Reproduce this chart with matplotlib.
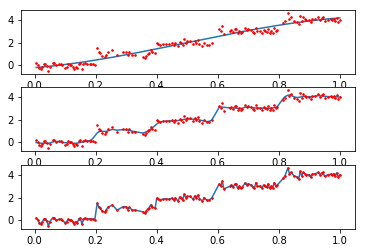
import numpy as np
import matplotlib
matplotlib.use("Agg")
import matplotlib.pyplot as plt

x_a = [0.005,0.01,0.015,0.02,0.025,0.03,0.035,0.04,0.045,0.05,0.06,0.065,0.07,0.08,0.085,0.09,0.1,0.105,0.11,0.115,0.12,0.125,0.13,0.135,0.14,0.145,0.15,0.155,0.16,0.165,0.17,0.18,0.185,0.19,0.197]
y_a = [0.2,0.05,-0.2,-0.3,-0.15,0.1,0.15,-0.05,-0.5,-0.1,0.25,0.2,0.0,0.1,0.1,0.0,-0.2,-0.1,0.1,0.0,0.05,-0.1,-0.3,-0.1,-0.2,0.15,0.2,-0.35,0.1,0.2,0.15,0.15,0.1,0.1,0.05]
x_b = [0.205,0.21,0.215,0.22,0.23,0.235,0.24,0.255,0.27,0.29,0.3,0.305,0.31,0.32,0.33,0.355,0.36,0.365,0.37,0.375,0.38,0.385,0.395]
y_b = [1.5,1.2,1.1,0.85,0.7,0.95,1.15,1.35,0.9,1.2,1.2,0.95,1.15,0.9,0.9,0.75,0.65,0.8,1.0,1.1,1.35,1.15,1.1]
x_c = [0.4,0.405,0.41,0.42,0.43,0.44,0.45,0.455,0.46,0.47,0.475,0.48,0.485,0.49,0.495,0.5,0.51,0.52,0.525,0.53,0.535,0.54,0.55,0.555,0.565,0.57,0.58]
y_c = [1.95,1.9,1.8,1.85,1.9,1.85,1.95,1.8,1.95,1.7,2.05,2.0,1.75,2.3,2.0,2.1,2.1,1.85,2.15,2.0,2.2,1.9,1.7,2.0,1.75,1.75,1.95]
x_d = [0.605,0.61,0.615,0.62,0.64,0.645,0.65,0.655,0.66,0.665,0.67,0.675,0.68,0.69,0.695,0.7,0.71,0.715,0.72,0.725,0.73,0.74,0.745,0.75,0.755,0.76,0.765,0.77,0.775,0.78,0.785,0.79,0.795]
y_d = [3.2,3.0,3.45,2.75,3.0,3.1,2.9,3.15,3.2,2.8,3.0,2.8,2.9,3.3,3.1,3.2,3.1,2.9,2.8,3.3,3.0,3.0,2.85,3.1,3.0,2.9,3.2,2.8,3.0,2.85,3.3,3.0,3.1]
x_e = [0.815,0.82,0.83,0.835,0.84,0.85,0.86,0.865,0.87,0.875,0.88,0.885,0.89,0.9,0.905,0.91,0.92,0.93,0.935,0.94,0.945,0.95,0.96,0.97,0.975,0.98,0.985,0.99,0.995,1.0]
y_e = [3.7,3.9,4.6,4.1,4.2,3.9,3.8,3.6,4.3,3.9,4.2,4.1,4.0,4.0,3.8,4.05,4.1,4.2,4.0,4.15,4.2,3.85,4.0,4.05,3.95,4.1,3.9,4.15,3.8,4.0]

x = np.array(x_a + x_b + x_c + x_d + x_e)
y = np.array(y_a + y_b + y_c + y_d + y_e)

# fits
coef = np.polyfit(x, y, 3)
fit_poly = np.polyval(coef, x)

def kernel_smooth(xq, xs, ys, bw):
    w = np.exp(-0.5 * ((xq[:, None] - xs[None, :]) / bw) ** 2)
    return (w * ys[None, :]).sum(1) / w.sum(1)

fit_smooth = kernel_smooth(x, x, y, 0.012)
fit_nn = y

W, H = 366, 252
fig = plt.figure(figsize=(W / 72, H / 72), dpi=72)
boxes = [(10, 74), (87, 151), (165, 229)]
lines = [fit_poly, fit_smooth, fit_nn]
for (t, b), ln in zip(boxes, lines):
    ax = fig.add_axes([21 / W, (H - b) / H, (355 - 21) / W, (b - t) / H])
    ax.plot(x, ln, color='#1f77b4', lw=1.5)
    ax.scatter(x, y, s=2.5, c='r', zorder=3)
    ax.set_xticks([0.0, 0.2, 0.4, 0.6, 0.8, 1.0])
    ax.set_yticks([0, 2, 4])
    ax.tick_params(labelsize=10)

fig.savefig("out.png", dpi=72)
